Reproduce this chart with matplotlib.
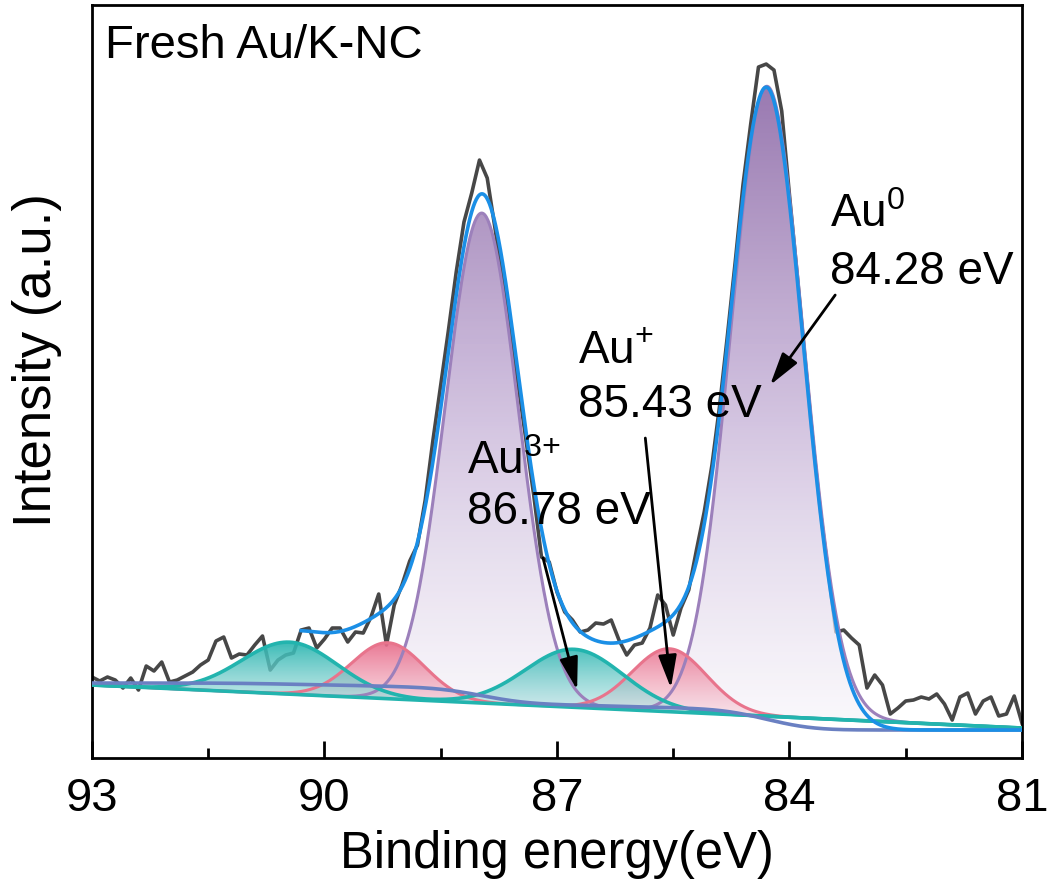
import numpy as np
import matplotlib
matplotlib.use('Agg')
import matplotlib.pyplot as plt
from matplotlib.patches import Polygon
from matplotlib.colors import LinearSegmentedColormap
from matplotlib.ticker import FixedLocator

plt.rcParams['font.family'] = ['Liberation Sans', 'DejaVu Sans']
plt.rcParams['mathtext.fontset'] = 'custom'
plt.rcParams['mathtext.rm'] = 'Liberation Sans'
plt.rcParams['mathtext.it'] = 'Liberation Sans:italic'

# raw spectrum, 0.1 eV step from 93 to 81 eV (a.u.)
energy = np.round(np.arange(93.0, 80.95, -0.1), 2)
counts = [81, 77, 81, 78, 70, 80, 68, 92, 87, 96,
          76, 78, 82, 86, 93, 98, 117, 121, 100, 104,
          103, 113, 122, 88, 98, 103, 105, 128, 130, 110,
          119, 130, 130, 116, 126, 125, 141, 164, 113, 153,
          173, 197, 213, 258, 318, 373, 428, 486, 536, 565,
          598, 580, 530, 478, 428, 373, 318, 263, 201, 196,
          166, 146, 138, 126, 128, 135, 134, 138, 118, 103,
          113, 115, 130, 163, 153, 123, 150, 168, 208, 246,
          293, 353, 423, 496, 573, 634, 691, 694, 688, 647,
          563, 483, 400, 318, 246, 186, 126, 128, 120, 113,
          70, 83, 73, 44, 50, 57, 58, 61, 59, 64,
          54, 38, 61, 65, 44, 57, 61, 42, 44, 62,
          35]

# fitted doublets (4f7/2, 4f5/2): centres, heights, widths
au0_pos = [84.29, 87.97]
au0_amp = [630, 490]
au0_sig = [0.47, 0.47]
au1_pos = [85.55, 89.18]
au1_amp = [63, 56]
au1_sig = [0.48, 0.47]
au3_pos = [86.78, 90.45]
au3_amp = [58, 52]
au3_sig = [0.63, 0.62]

bg_left, bg_right = 73, 30        # linear background ends
shirley_left, shirley_right = 75, 28


def gauss(E, c, h, s):
    return h*np.exp(-(E-c)**2/(2*s**2))


def doublet(E, pos, amp, sig):
    return sum(gauss(E, c, h, s) for c, h, s in zip(pos, amp, sig))


def grad_fill(ax, x, top, base, colors, zorder=2):
    verts = np.column_stack([np.concatenate([x, x[::-1]]),
                             np.concatenate([top, base[::-1]])])
    poly = Polygon(verts, closed=True, facecolor='none', edgecolor='none')
    ax.add_patch(poly)
    cmap = LinearSegmentedColormap.from_list('g', colors)
    grad = np.linspace(0, 1, 256).reshape(-1, 1)
    im = ax.imshow(grad, extent=[x.min(), x.max(), base.min(), top.max()],
                   origin='lower', aspect='auto', cmap=cmap, zorder=zorder,
                   interpolation='bilinear')
    im.set_clip_path(poly)


E = np.linspace(93, 81, 1201)
lin = bg_left + (bg_right-bg_left)*(93-E)/12.
p0 = doublet(E, au0_pos, au0_amp, au0_sig)
p1 = doublet(E, au1_pos, au1_amp, au1_sig)
p3 = doublet(E, au3_pos, au3_amp, au3_sig)
tot = p0 + p1 + p3
# shirley type background, integrated from the low binding energy side
area = np.concatenate([[0], np.cumsum(0.5*(tot[1:]+tot[:-1]))])
area = area[-1] - area
shirley = shirley_right + (shirley_left-shirley_right)*area/area[0]
envelope = shirley + tot

fig = plt.figure(figsize=(10.5, 8.9), dpi=100)
ax = fig.add_axes([0.0876, 0.1483, 0.8857, 0.846])

ax.plot(energy, counts, color='#474747', lw=2.6, zorder=1)

grad_fill(ax, E, lin+p0, lin, [(0.97, 0.96, 0.98, 0.6), (0.80, 0.73, 0.86, 0.9),
                               (0.58, 0.45, 0.68, 0.95)], zorder=2)
grad_fill(ax, E, lin+p1, lin, [(0.98, 0.88, 0.91, 0.5), (0.91, 0.42, 0.54, 0.92)], zorder=2.1)
grad_fill(ax, E, lin+p3, lin, [(0.85, 0.93, 0.94, 0.5), (0.16, 0.71, 0.69, 0.92)], zorder=2.2)

ax.plot(E, lin+p0, color='#9c80bb', lw=2.2, zorder=3)
ax.plot(E, lin+p1, color='#e8748c', lw=2.2, zorder=3)
ax.plot(E, lin+p3, color='#22b4ae', lw=2.6, zorder=3.1)
ax.plot(E, lin, color='#22b4ae', lw=2.6, zorder=3.2)
ax.plot(E, shirley, color='#6a80c2', lw=2.6, zorder=3.3)
m = E <= 90.3
ax.plot(E[m], envelope[m], color='#1b8fe6', lw=2.6, zorder=4)

fs = 33
ax.text(92.83, 712, 'Fresh Au/K-NC', fontsize=34, va='center', ha='left')
labels = [('Au$^{0}$', '84.28 eV', 83.48, 543, 486),
          ('Au$^{+}$', '85.43 eV', 86.73, 406, 353),
          ('Au$^{3{+}}$', '86.78 eV', 88.16, 296, 246)]
for name, val, x0, y1, y2 in labels:
    ax.text(x0, y1, name, fontsize=fs, va='center', ha='left', zorder=6)
    ax.text(x0, y2, val, fontsize=fs, va='center', ha='left', zorder=6)

arrows = [((83.41, 463), (84.25, 373)),
          ((85.86, 320), (85.53, 70)),
          ((87.18, 200), (86.74, 68))]
for tail, head in arrows:
    ax.annotate('', xy=head, xytext=tail, zorder=7,
                arrowprops=dict(arrowstyle='-|>,head_length=1.0,head_width=0.28',
                                mutation_scale=20, lw=2, color='k',
                                shrinkA=0, shrinkB=0))

ax.set_xlim(93, 81)
ax.set_ylim(0, 753)
ax.set_xticks([93, 90, 87, 84, 81])
ax.xaxis.set_minor_locator(FixedLocator([91.5, 88.5, 85.5, 82.5]))
ax.set_yticks([])
ax.tick_params(axis='x', which='major', direction='in', length=12, width=2,
               labelsize=34, pad=14)
ax.tick_params(axis='x', which='minor', direction='in', length=7, width=2)
for sp in ax.spines.values():
    sp.set_linewidth(2)

ax.set_xlabel('Binding energy(eV)', fontsize=36.5, labelpad=6)
fig.text(37/1050, 1-360/890, 'Intensity (a.u.)', rotation=90, fontsize=38,
         ha='center', va='center')

fig.savefig('out.png', dpi=100)
